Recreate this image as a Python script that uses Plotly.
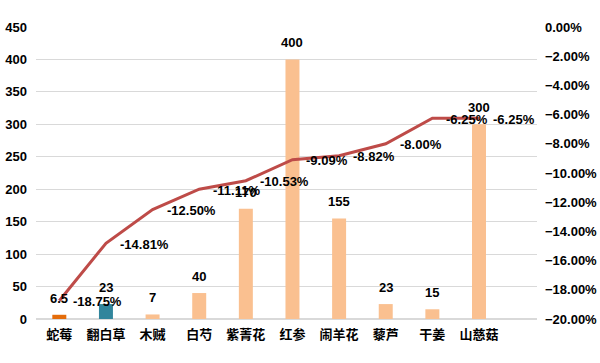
import plotly.graph_objects as go

categories = ["蛇莓", "翻白草", "木贼", "白芍", "紫菁花", "红参", "闹羊花", "藜芦", "干姜", "山慈菇"]
bar_values = [6.5, 23, 7, 40, 170, 400, 155, 23, 15, 300]
line_values = [-0.1875, -0.1481, -0.1250, -0.1111, -0.1053, -0.0909, -0.0882, -0.0800, -0.0625, -0.0625]
line_labels = ["-18.75%", "-14.81%", "-12.50%", "-11.11%", "-10.53%", "-9.09%", "-8.82%", "-8.00%", "-6.25%", "-6.25%"]
bar_colors = ["#E46C0A", "#31859C"] + ["#FAC090"] * 8

num_font = "Liberation Sans"
cjk_font = "Noto Sans CJK SC"
FS = 13

fig = go.Figure()
fig.add_trace(go.Bar(
    x=categories, y=bar_values, marker=dict(color=bar_colors, line=dict(width=0)),
    yaxis="y", showlegend=False,
))
fig.add_trace(go.Scatter(
    x=categories, y=line_values, mode="lines",
    line=dict(color="#BE4B48", width=3),
    yaxis="y2", showlegend=False,
))

annotations = []
for c, v in zip(categories, bar_values):
    annotations.append(dict(
        x=c, y=v, xref="x", yref="y", text="%g" % v, showarrow=False,
        xanchor="center", yanchor="bottom", yshift=7,
        font=dict(family=num_font, size=FS, color="#000000", weight="bold"),
    ))
for c, v, t in zip(categories, line_values, line_labels):
    annotations.append(dict(
        x=c, y=v, xref="x", yref="y2", text=t, showarrow=False,
        xanchor="left", yanchor="middle", xshift=12, yshift=-1,
        font=dict(family=num_font, size=FS, color="#000000", weight="bold"),
    ))

fig.update_layout(
    width=600, height=363,
    margin=dict(l=36, r=63, t=27, b=44),
    paper_bgcolor="white", plot_bgcolor="white",
    bargap=0.7,
    annotations=annotations,
    font=dict(family=num_font, size=FS, color="#000000"),
    xaxis=dict(
        showgrid=False, showline=False, ticks="", ticklabelstandoff=6, automargin=False,
        tickfont=dict(family=cjk_font, size=FS, color="#000000", weight="bold"),
    ),
    yaxis=dict(
        range=[0, 450], dtick=50, showgrid=True, gridcolor="#D9D9D9", gridwidth=1,
        zeroline=True, zerolinecolor="#D9D9D9", showline=False, ticklabelstandoff=8,
        automargin=False,
        tickfont=dict(family=num_font, size=FS, color="#000000", weight="bold"),
    ),
    yaxis2=dict(
        range=[-0.20, 0], dtick=0.02, tickformat=".2%", overlaying="y", side="right",
        showgrid=False, zeroline=False, showline=False, ticklabelstandoff=7,
        automargin=False,
        tickfont=dict(family=num_font, size=FS, color="#000000", weight="bold"),
    ),
)

fig.write_html("out.html")
